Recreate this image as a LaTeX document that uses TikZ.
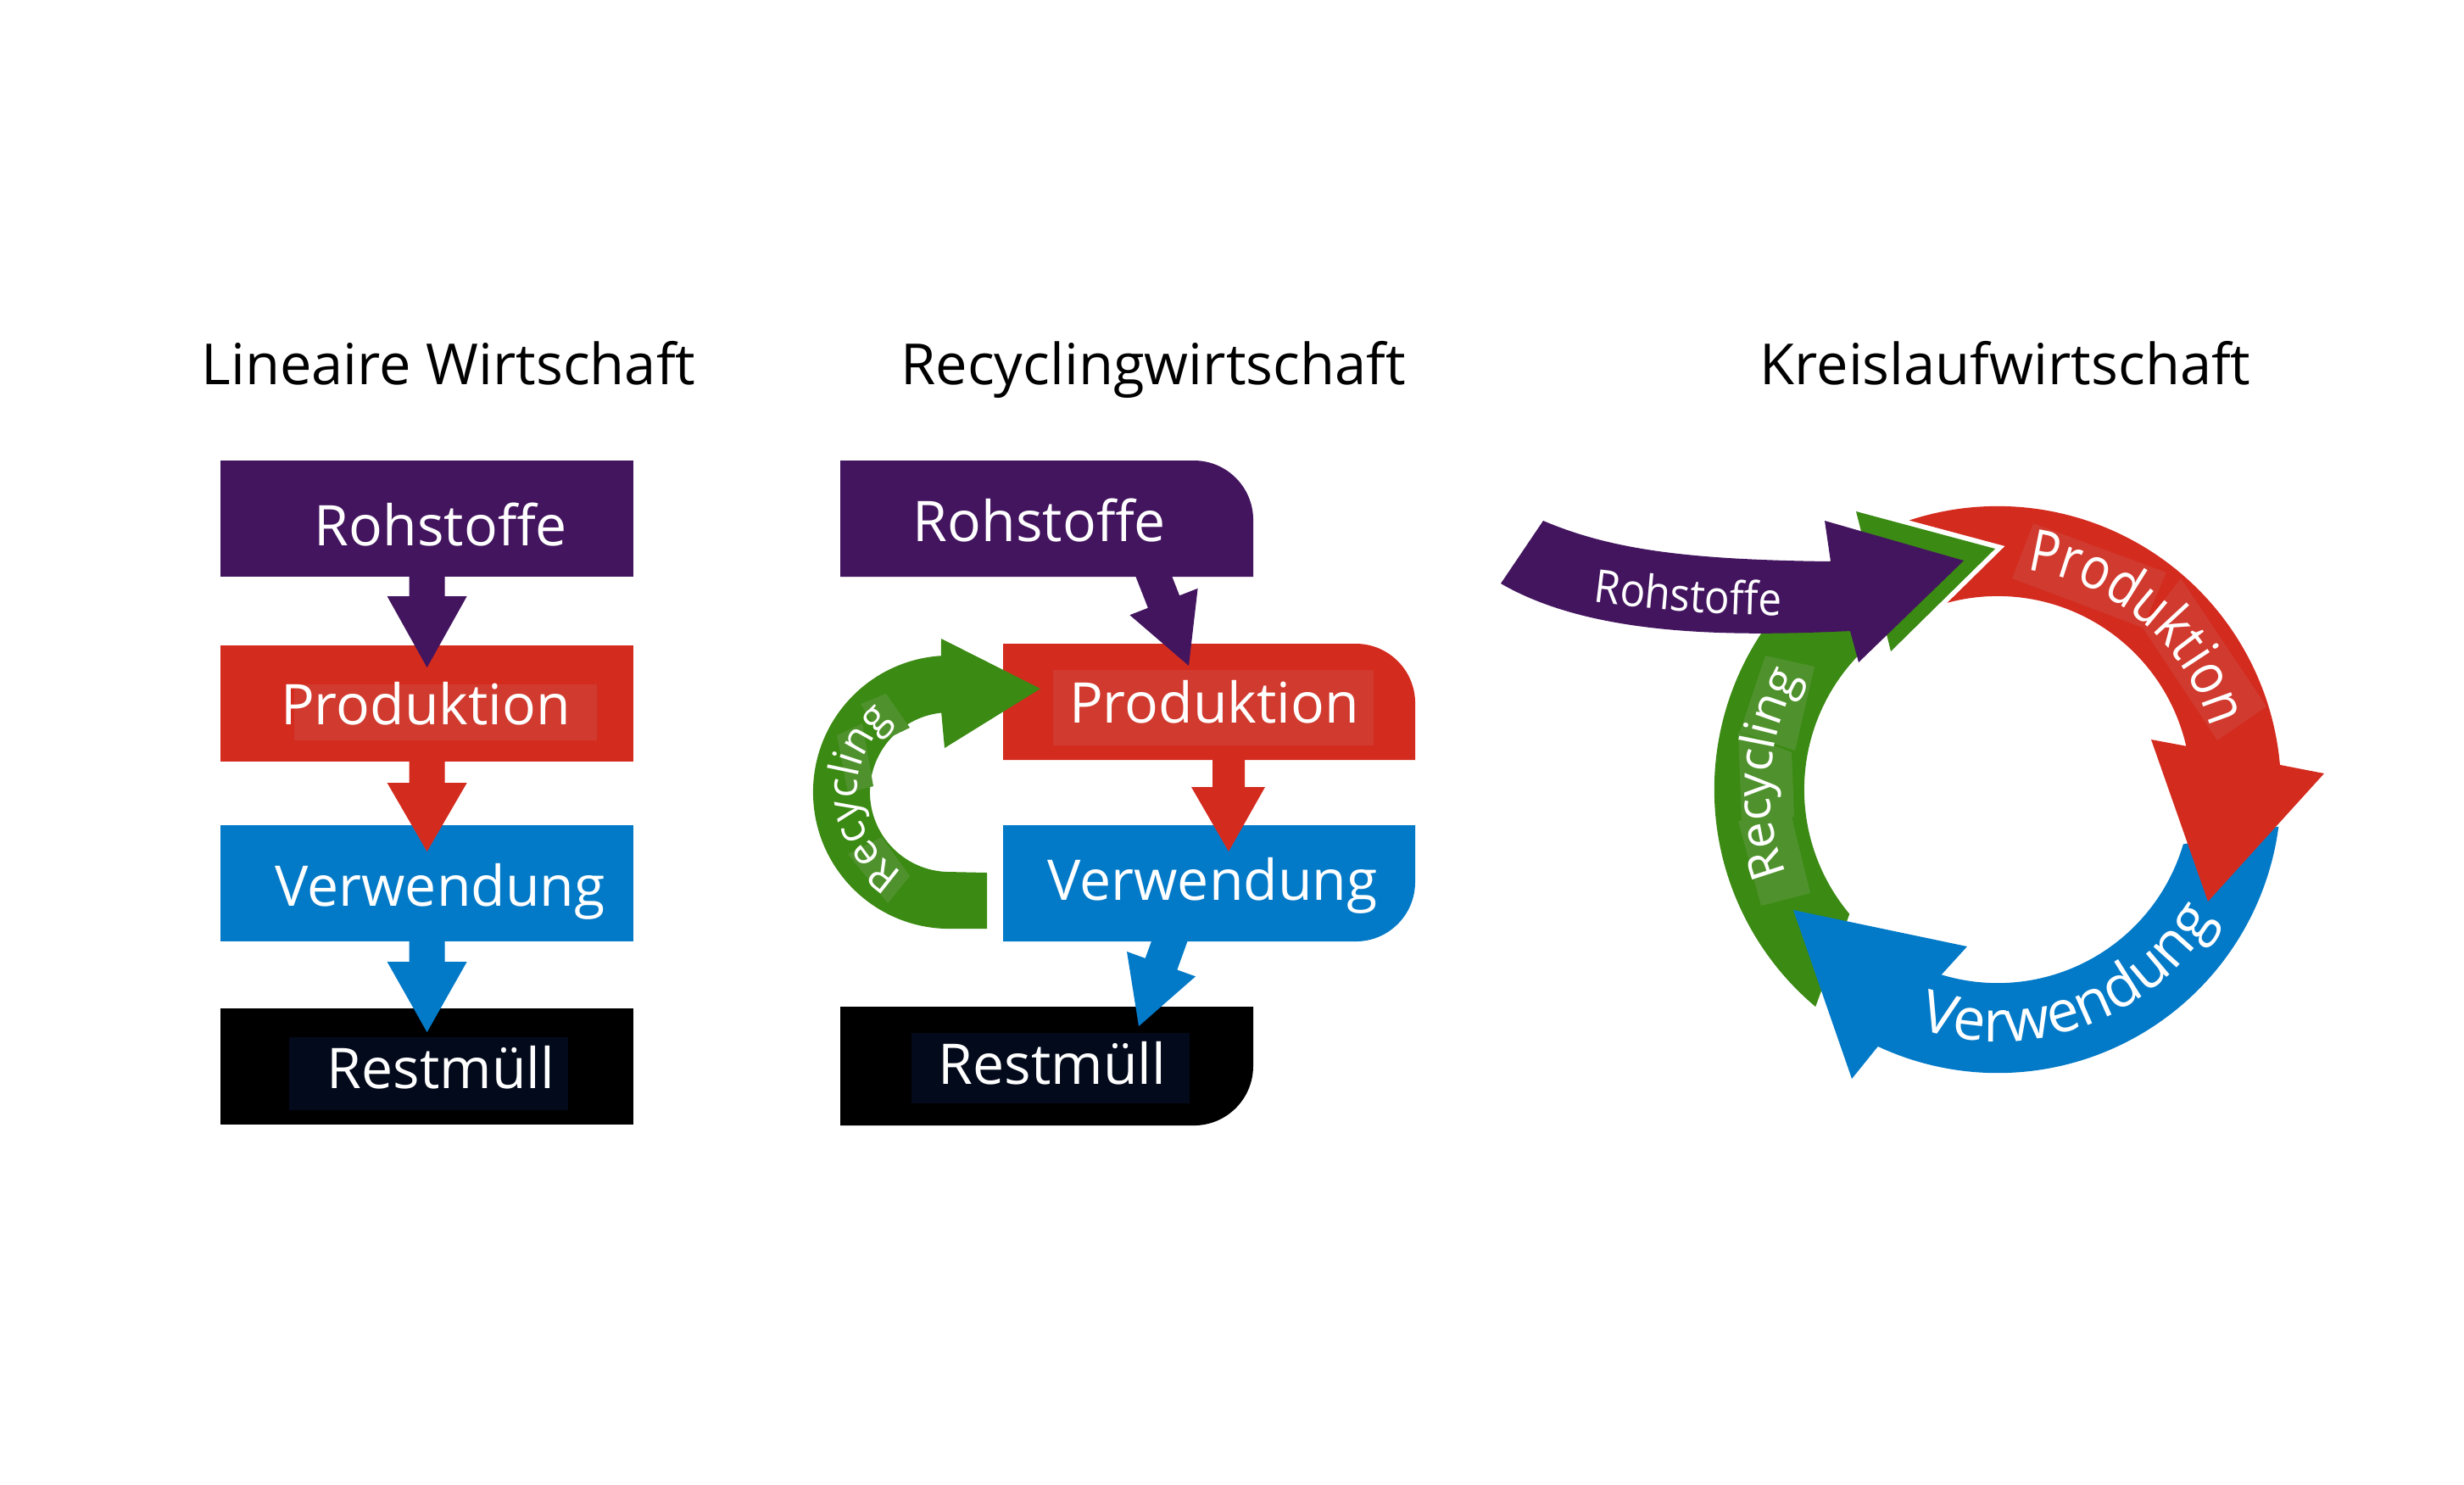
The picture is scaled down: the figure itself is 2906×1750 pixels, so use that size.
\documentclass[tikz,border=0pt]{standalone}
\usepackage{fontspec}
\setmainfont{Open Sans}
\newfontfamily\ringfont[FakeStretch=0.85]{Open Sans}
\newfontfamily\rohfont[FakeStretch=0.92]{Open Sans}
\usetikzlibrary{calc,decorations.text}
\definecolor{cpurple}{HTML}{43155F}
\definecolor{cred}{HTML}{D42B1F}
\definecolor{cblue}{HTML}{037AC8}
\definecolor{cgreen}{HTML}{3B8A13}
\definecolor{cnavy}{HTML}{030A1C}
\definecolor{credlt}{HTML}{D13A2E}
\definecolor{cgreenlt}{HTML}{4F922D}
\newcommand\titlefont{\fontsize{19pt}{23pt}\selectfont}
\newcommand\labelfont{\fontsize{18.8pt}{22pt}\selectfont}
\newcommand\prodtxt{\ringfont\fontsize{19.5pt}{23pt}\selectfont\color{white}}
\newcommand\verwtxt{\fontsize{19.4pt}{23pt}\selectfont\color{white}}
\newcommand\recytxt{\fontsize{15.9pt}{19pt}\selectfont\color{white}}
\newcommand\recysmall{\fontsize{14pt}{17pt}\selectfont\color{white}}
\newcommand\rohtxt{\rohfont\fontsize{15.3pt}{18pt}\selectfont\color{white}}
\begin{document}
\begin{tikzpicture}[x=0.01cm, y=-0.01cm,
  title/.style={font=\titlefont, anchor=base, inner sep=0pt},
  lbl/.style={font=\labelfont, text=white, anchor=base, inner sep=0pt},
  boxnode/.style={minimum width=4.87cm, minimum height=1.37cm, inner sep=0pt, outer sep=0pt, anchor=north west}]
\fill[white] (0,0) rectangle (2906,1750);
\useasboundingbox (0,0) rectangle (2906,1750);

% ---------- titles
\node[title] (t1) at (529,453) {Lineaire Wirtschaft};
\node[title] (t2) at (1360,453) {Recyclingwirtschaft};
\node[title] (t3) at (2365,453) {Kreislaufwirtschaft};

% ---------- panel 1
\node[boxnode, fill=cpurple] (lroh) at (260,543) {};
\node[boxnode, fill=cred] (lprod) at (260,761) {};
\node[boxnode, fill=cblue] (lverw) at (260,973) {};
\node[boxnode, fill=black] (lrest) at (260,1189) {};
\fill[cpurple] ($(lroh.south)+(-21,-5)$) -- ++(42,0) -- ++(0,28) -- ++(26,0) -- ++(-47,84) -- ++(-47,-84) -- ++(26,0) -- cycle;
\fill[cred] ($(lprod.south)+(-21,-5)$) -- ++(42,0) -- ++(0,30) -- ++(26,0) -- ++(-47,81) -- ++(-47,-81) -- ++(26,0) -- cycle;
\fill[cblue] ($(lverw.south)+(-21,-5)$) -- ++(42,0) -- ++(0,29) -- ++(26,0) -- ++(-47,83) -- ++(-47,-83) -- ++(26,0) -- cycle;
\fill[credlt] (347,807) rectangle (704,873);
\fill[cnavy] (341,1223) rectangle (670,1309);
\node[lbl] (l1) at (520,643) {Rohstoffe};
\node[lbl] (l2) at (502,854) {Produktion};
\node[lbl] (l3) at (519,1068) {Verwendung};
\node[lbl] (l4) at (520,1283) {Restmüll};

% ---------- panel 2
\fill[cpurple] (991,680) -- (991,543) -- (1408,543) arc[start angle=90, end angle=0, radius=0.7cm] -- (1478,680) -- cycle;
\fill[cred] (1183,896) -- (1183,759) -- (1599,759) arc[start angle=90, end angle=0, radius=0.7cm] -- (1669,896) -- cycle;
\fill[cblue] (1183,973) -- (1669,973) -- (1669,1040) arc[start angle=0, end angle=-90, radius=0.7cm] -- (1183,1110) -- cycle;
\fill[black] (991,1187) -- (1478,1187) -- (1478,1257) arc[start angle=0, end angle=-90, radius=0.7cm] -- (991,1327) -- cycle;
% recycling loop
\coordinate (gc) at (1120,934);
\fill[cgreen] (1164,1095) -- ($(gc)+(270:1.61cm)$) arc[start angle=270, end angle=93.6, radius=1.61cm]
  -- (1110,753) -- (1227,812) -- (1114,882) -- ($(gc)+(96:0.94cm)$)
  arc[start angle=96, end angle=270, radius=0.94cm] -- (1164,1029) -- cycle;
\fill[cgreenlt] (1015,830) -- (1045,818) -- (1073,858) -- (1042,873) -- cycle;
\fill[cgreenlt] (987,867) -- (1017,853) -- (1030,927) -- (1000,935) -- cycle;
\fill[cgreenlt] (1000,1007) -- (1040,987) -- (1073,1033) -- (1047,1065) -- cycle;
% arrows
\fill[cpurple] (1375.6,662.7) -- (1391.1,702.2) -- (1412.6,693.8) -- (1402,785) -- (1332.4,725.2) -- (1353.9,716.8) -- (1338.4,677.3) -- cycle;
\fill[cred] (1430,891) -- (1468,891) -- (1468,928) -- (1492,928) -- (1449,1004) -- (1405,928) -- (1430,928) -- cycle;
\fill[cblue] (1401.6,1106.8) -- (1388.3,1143.5) -- (1410,1151.3) -- (1343,1210) -- (1329,1122) -- (1350.7,1129.9) -- (1364,1093.2) -- cycle;
\fill[credlt] (1242,790) rectangle (1620,879);
\fill[cnavy] (1075,1218) rectangle (1403,1301);
\node[lbl] (r1) at (1226,638) {Rohstoffe};
\node[lbl] (r2) at (1432,852) {Produktion};
\node[lbl] (r3) at (1430,1061) {Verwendung};
\node[lbl] (r4) at (1241,1278) {Restmüll};
\path[decorate, decoration={text along path, text align=center, text={|\recysmall|Recycling}}]
  ($(gc)+(252:1.09cm)$) arc[start angle=252, end angle=116, radius=1.09cm];

% ---------- panel 3
\coordinate (C) at (2356,931);
% green
\fill[cgreen] ($(C)+(230:3.34cm)$) arc[start angle=230, end angle=118.3, radius=3.34cm]
  -- (2189,603) -- (2353,647) -- (2230,768) -- ($(C)+(125.3:2.28cm)$)
  arc[start angle=125.3, end angle=220, radius=2.28cm] -- cycle;
\fill[cgreenlt] (2082,773) -- (2140,786) -- (2117,885) -- (2052,863) -- cycle;
\fill[cgreenlt] (2050,863) -- (2113,887) -- (2116,963) -- (2054,968) -- cycle;
\fill[cgreenlt] (2050,968) -- (2113,963) -- (2135,1053) -- (2077,1068) -- cycle;
% blue
\fill[cblue] ($(C)+(-7.5:3.34cm)$) arc[start angle=-7.5, end angle=-115, radius=3.34cm]
  -- (2184,1272) -- (2115,1073) -- (2320,1116) -- ($(C)+(-106.9:2.28cm)$)
  arc[start angle=-106.9, end angle=-16.4, radius=2.28cm] -- cycle;
% red
\fill[cred] ($(C)+(108.2:3.34cm)$) arc[start angle=108.2, end angle=5, radius=3.34cm]
  -- (2741,912) -- (2604,1063) -- (2537,872) -- ($(C)+(13:2.28cm)$)
  arc[start angle=13, end angle=105.1, radius=2.28cm] -- (2364.6,643.9) -- cycle;
\fill[credlt] (2373,682) -- (2398,617) -- (2555,675) -- (2527,740) -- cycle;
\fill[credlt] (2527,740) -- (2572,682) -- (2673,833) -- (2615,873) -- cycle;
% purple input arrow
\fill[cpurple] (1820,614) .. controls (1900,648) and (1990,660) .. (2159,662)
  -- (2152,614) -- (2316,661) -- (2192,781) -- (2182,744)
  .. controls (2050,750) and (1880,752) .. (1770,688) -- cycle;
% curved labels
\path[decorate, decoration={text along path, text align=center, text={|\prodtxt|Produktion}}]
  ($(C)+(100:2.61cm)$) arc[start angle=100, end angle=-1.4, radius=2.61cm];
\path[decorate, decoration={text along path, text align=center, text={|\verwtxt|Verwendung}}]
  ($(C)+(-120:2.97cm)$) arc[start angle=-120, end angle=-19, radius=2.97cm];
\path[decorate, decoration={text along path, text align=center, text={|\recytxt|Recycling}}]
  ($(C)+(215:2.68cm)$) arc[start angle=215, end angle=137, radius=2.68cm];
\path[decorate, decoration={text along path, text align=center, text={|\rohtxt|Rohstoffe}}]
  (1850,706) .. controls (1950,720) and (2030,726) .. (2130,726);
\end{tikzpicture}
\end{document}
